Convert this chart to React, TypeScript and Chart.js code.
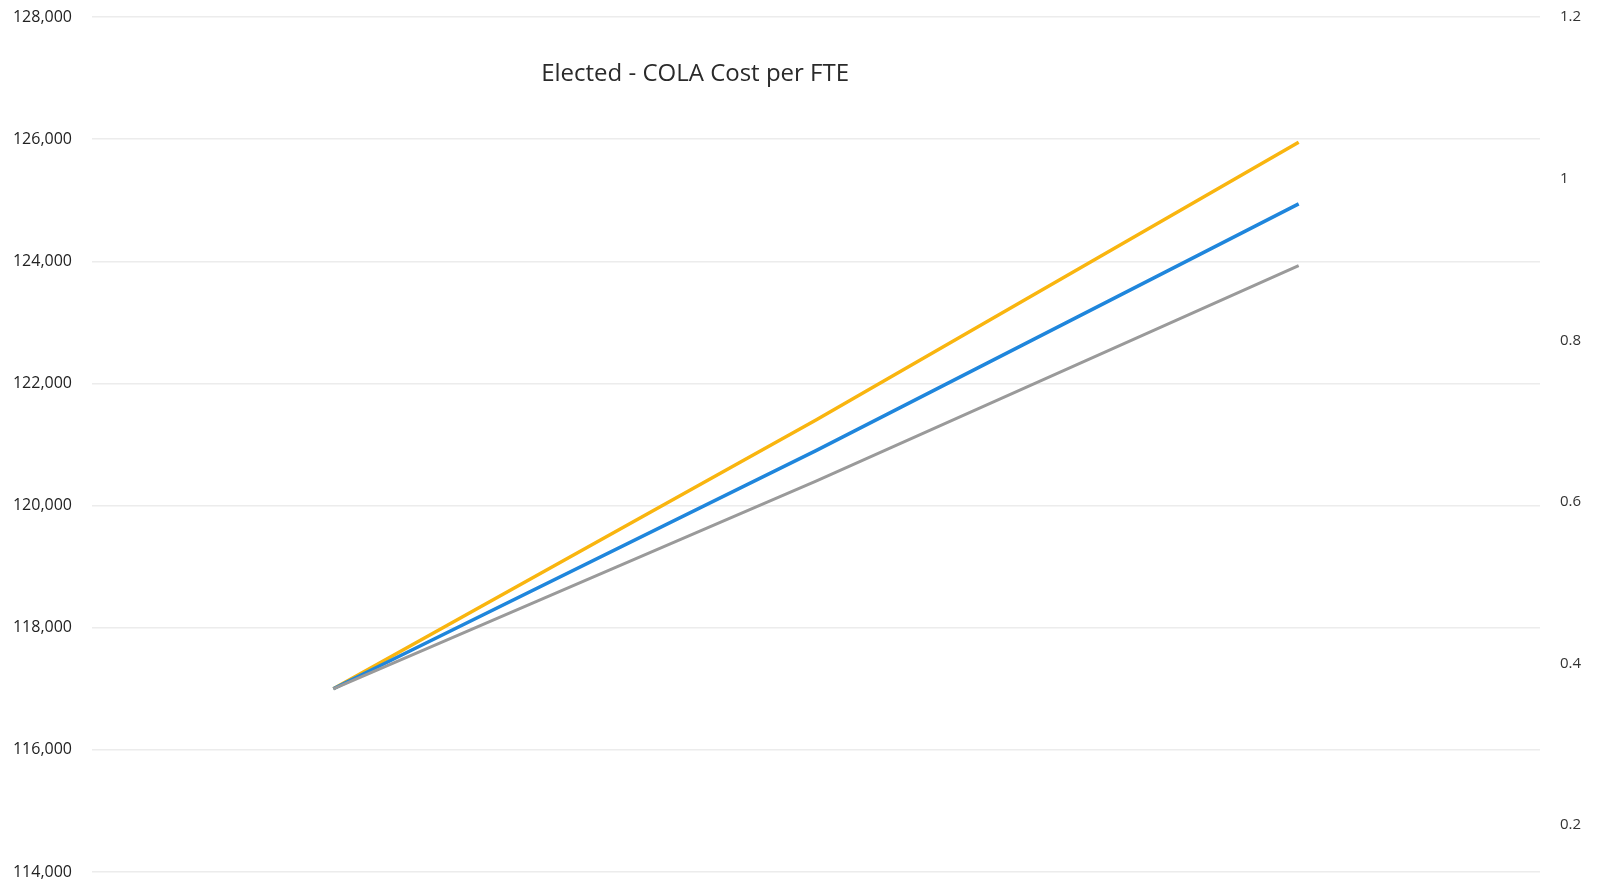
import React, { useEffect, useRef } from "react";
import { Chart, registerables } from "chart.js";

Chart.register(...registerables);

const chartTitle = "Elected - COLA Cost per FTE";
const categories = ["Year 1", "Year 2", "Year 3"];
const seriesNames = ["COLA High", "COLA Mid", "COLA Low"];
const orangeValues = [117000, 121400, 125950];
const blueValues = [117000, 120900, 124940];
const grayValues = [117000, 120400, 123930];
const leftTicks = [114000, 116000, 118000, 120000, 122000, 124000, 126000, 128000];
const rightTicks = [0.2, 0.4, 0.6, 0.8, 1, 1.2];

const titlePlugin = {
  id: "overlayTitle",
  afterDraw(chart: any) {
    const { ctx, chartArea } = chart;
    ctx.save();
    ctx.font = "24px 'Open Sans'";
    ctx.fillStyle = "#2a2a2a";
    ctx.textAlign = "center";
    ctx.textBaseline = "middle";
    const x = chartArea.left + (chartArea.right - chartArea.left) * 0.4165;
    ctx.fillText(chartTitle, x, 74);
    ctx.restore();
  },
};

export default function App() {
  const ref = useRef<HTMLCanvasElement | null>(null);

  useEffect(() => {
    if (!ref.current) return;
    const chart = new Chart(ref.current, {
      type: "line",
      data: {
        labels: categories,
        datasets: [
          {
            label: seriesNames[2],
            data: grayValues,
            borderColor: "#9a9a9a",
            borderWidth: 3,
            pointRadius: 0,
            tension: 0,
            yAxisID: "y",
          },
          {
            label: seriesNames[1],
            data: blueValues,
            borderColor: "#1f86dc",
            borderWidth: 3.5,
            pointRadius: 0,
            tension: 0,
            yAxisID: "y",
          },
          {
            label: seriesNames[0],
            data: orangeValues,
            borderColor: "#f9b50f",
            borderWidth: 3.5,
            pointRadius: 0,
            tension: 0,
            yAxisID: "y",
          },
        ],
      },
      options: {
        responsive: false,
        animation: false,
        layout: { padding: { top: 17, bottom: 15, left: 0, right: 0 } },
        plugins: {
          legend: { display: false },
          title: { display: false },
          tooltip: { enabled: false },
        },
        scales: {
          x: {
            type: "category",
            display: false,
            offset: true,
          },
          y: {
            type: "linear",
            position: "left",
            min: leftTicks[0],
            max: leftTicks[leftTicks.length - 1],
            afterBuildTicks: (scale: any) => {
              scale.ticks = leftTicks.map((v) => ({ value: v }));
            },
            afterFit: (scale: any) => {
              scale.width = 92;
              scale.paddingTop = 0;
              scale.paddingBottom = 0;
            },
            grid: {
              color: "#ececec",
              lineWidth: 1.5,
              drawTicks: false,
            },
            border: { display: false },
            ticks: {
              padding: 20,
              color: "#222222",
              font: { family: "'Open Sans'", size: 16 },
              callback: (v: any) => Number(v).toLocaleString("en-US"),
            },
          },
          y2: {
            type: "linear",
            position: "right",
            min: 0.142,
            max: 1.2,
            afterBuildTicks: (scale: any) => {
              scale.ticks = rightTicks.map((v) => ({ value: v }));
            },
            afterFit: (scale: any) => {
              scale.width = 61;
              scale.paddingTop = 0;
              scale.paddingBottom = 0;
            },
            grid: { display: false, drawTicks: false },
            border: { display: false },
            ticks: {
              padding: 20,
              color: "#333333",
              font: { family: "'Open Sans'", size: 15 },
              callback: (v: any) => String(v),
            },
          },
        },
      },
      plugins: [titlePlugin],
    });
    return () => chart.destroy();
  }, []);

  return (
    <div style={{ position: "fixed", left: 0, top: 0, width: 1601, height: 887, background: "#fff" }}>
      <canvas ref={ref} width={1601} height={887} style={{ display: "block" }} />
    </div>
  );
}
